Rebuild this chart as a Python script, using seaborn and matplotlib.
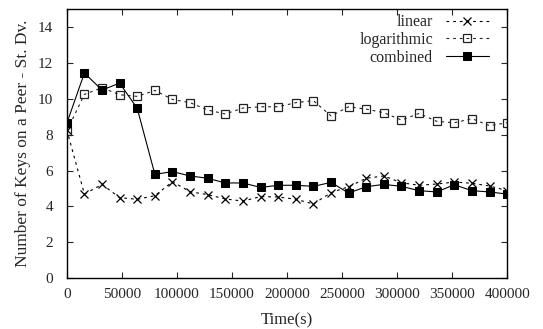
import numpy as np
import pandas as pd
import seaborn as sns
import matplotlib
matplotlib.use("Agg")
import matplotlib.pyplot as plt

time_s = [0, 16000, 32000, 48000, 64000, 80000, 96000, 112000, 128000, 144000,
          160000, 176000, 192000, 208000, 224000, 240000, 256000, 272000, 288000,
          304000, 320000, 336000, 352000, 368000, 384000, 400000]

linear = [8.26, 4.69, 5.23, 4.49, 4.40, 4.60, 5.38, 4.82, 4.66, 4.42,
          4.30, 4.55, 4.53, 4.40, 4.14, 4.77, 5.10, 5.57, 5.70,
          5.32, 5.18, 5.25, 5.36, 5.29, 5.14, 4.88]

logarithmic = [8.20, 10.24, 10.61, 10.22, 10.13, 10.46, 9.96, 9.78, 9.37, 9.15,
               9.48, 9.55, 9.55, 9.78, 9.89, 9.04, 9.55, 9.42, 9.22,
               8.81, 9.18, 8.74, 8.66, 8.89, 8.50, 8.66]

combined = [8.63, 11.43, 10.48, 10.87, 9.46, 5.79, 5.94, 5.70, 5.57, 5.31,
            5.31, 5.06, 5.18, 5.18, 5.12, 5.34, 4.75, 5.10, 5.23,
            5.12, 4.88, 4.81, 5.21, 4.88, 4.81, 4.69]

sns.set_style("ticks")
plt.rcParams['font.family'] = ['Liberation Serif', 'DejaVu Serif']

fig, ax = plt.subplots(figsize=(5.43, 3.29), dpi=100)
fig.subplots_adjust(left=0.123, right=0.934, top=0.973, bottom=0.154)

sns.lineplot(x=time_s, y=linear, ax=ax, color="black", linestyle=(0, (2.5, 3.5)),
             linewidth=0.8, marker="x", markersize=5.5, markeredgewidth=0.9,
             markeredgecolor="black", label="linear")
sns.lineplot(x=time_s, y=logarithmic, ax=ax, color="#222222", linestyle=(0, (2.5, 3.5)),
             linewidth=0.8, marker="s", markersize=6, markerfacecolor="none",
             markeredgecolor="#222222", markeredgewidth=0.9, label="logarithmic")
sns.lineplot(x=time_s, y=combined, ax=ax, color="black", linestyle="-",
             linewidth=0.8, marker="s", markersize=6, markerfacecolor="black",
             markeredgecolor="black", label="combined")

ax.set_xlim(0, 400000)
ax.set_ylim(0, 15)
ax.set_xticks(np.arange(0, 400001, 50000))
ax.set_yticks(np.arange(0, 15, 2))
ax.tick_params(direction="in", top=True, right=True, length=4, width=0.8,
               labelsize=11)
ax.tick_params(axis="y", pad=10)
ax.tick_params(axis="x", pad=7)
for s in ax.spines.values():
    s.set_linewidth(1.0)
    s.set_color("black")

ax.set_xlabel("Time(s)", fontsize=12, labelpad=8)
ax.set_ylabel("Number of Keys on a Peer - St. Dv.", fontsize=12.5, labelpad=5)

leg = ax.legend(loc="upper right", bbox_to_anchor=(0.971, 1.0), frameon=False,
                markerfirst=False, handlelength=2.7, handletextpad=0.8,
                labelspacing=0.1, borderpad=0.2, borderaxespad=0.15,
                fontsize=11.5)

fig.savefig("out.png", dpi=100)
